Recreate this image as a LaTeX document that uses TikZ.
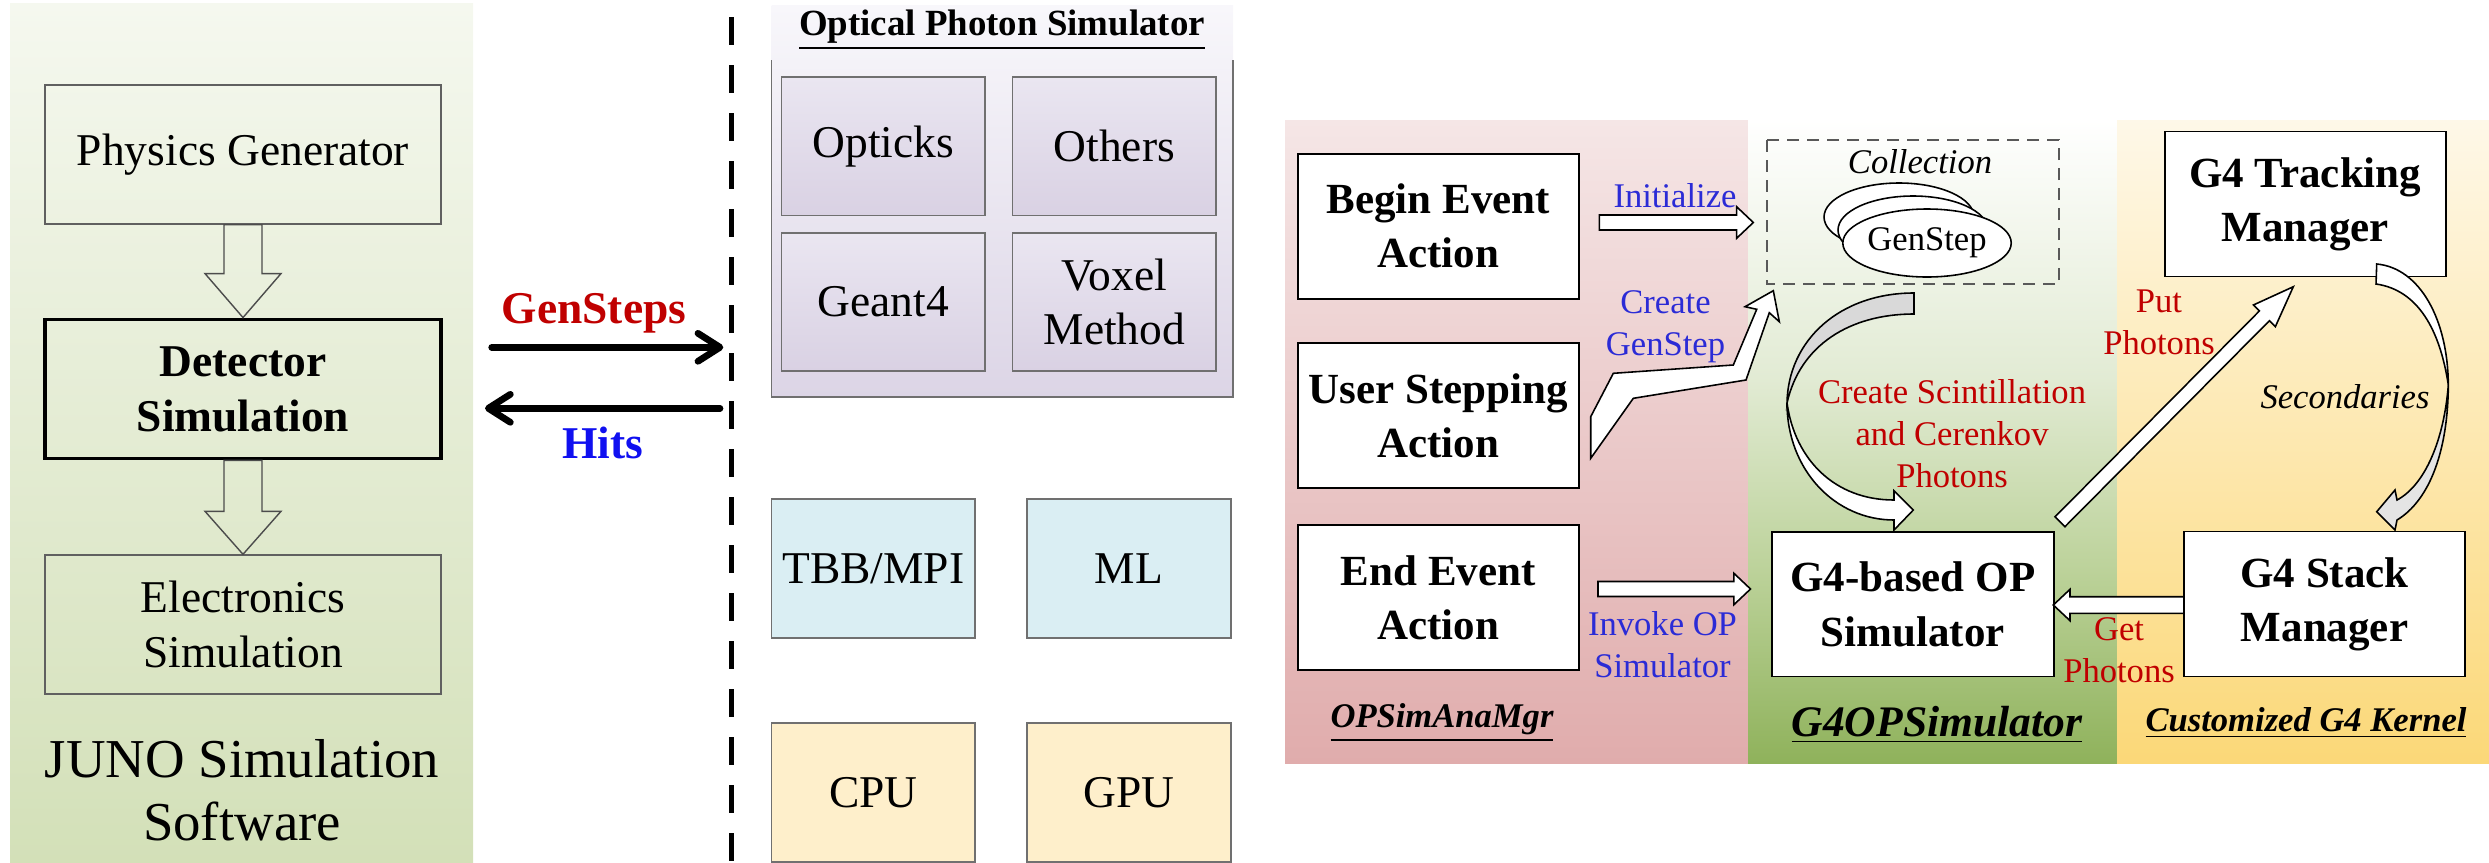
\documentclass[tikz,border=0pt]{standalone}
\usepackage{fontspec}
\setmainfont{LiberationSerif}[Extension=.ttf, UprightFont=*-Regular, BoldFont=*-Bold, ItalicFont=*-Italic, BoldItalicFont=*-BoldItalic]
\usetikzlibrary{calc,arrows.meta,shapes.geometric}
\definecolor{leftTop}{HTML}{F5F8EF}
\definecolor{leftBot}{HTML}{D3E0B8}
\definecolor{boxgray}{HTML}{606060}
\definecolor{opsTop}{HTML}{F8F7FB}
\definecolor{opsBot}{HTML}{DCD5E6}
\definecolor{opsEdge}{HTML}{707070}
\definecolor{inTop}{HTML}{EAE6F1}
\definecolor{inBot}{HTML}{D9D1E3}
\definecolor{hwBlue}{HTML}{DAEEF3}
\definecolor{hwYel}{HTML}{FEEFCB}
\definecolor{pinkTop}{HTML}{F5E6E6}
\definecolor{pinkBot}{HTML}{E0ACAC}
\definecolor{grnBot}{HTML}{8FB25B}
\definecolor{grnLow}{HTML}{BCD29A}
\definecolor{grnMid}{HTML}{E2EBD4}
\definecolor{grnTop}{HTML}{FFFFFF}
\definecolor{yelTop}{HTML}{FEF8E8}
\definecolor{yelMid}{HTML}{FDE8B0}
\definecolor{yelBot}{HTML}{FBD878}
\definecolor{labBlue}{HTML}{2B2BD6}
\definecolor{labRed}{HTML}{C00000}
\definecolor{hitsBlue}{HTML}{1010F0}
\definecolor{arrGray}{HTML}{D9D9D9}
\pgfdeclareverticalshading{grnshade}{100bp}{color(0bp)=(grnBot); color(25bp)=(grnBot); color(40bp)=(grnLow); color(55bp)=(grnMid); color(75bp)=(grnTop); color(100bp)=(grnTop)}
\pgfdeclareverticalshading{yelshade}{100bp}{color(0bp)=(yelBot); color(25bp)=(yelBot); color(50bp)=(yelMid); color(75bp)=(yelTop); color(100bp)=(yelTop)}
\newcommand\szbox{\fontsize{12.94}{15.6}\selectfont}
\newcommand\szR{\fontsize{12.23}{15.4}\selectfont}
\newcommand\szL{\fontsize{9.84}{11.9}\selectfont}
\newcommand\szJ{\fontsize{15.6}{17.9}\selectfont}
\newcommand\szT{\fontsize{10.5}{12}\selectfont}
\newcommand\szG{\fontsize{12.4}{14}\selectfont}
% block arrow: [style]{start}{end}{half shaft}{half head}{head length}
\newcommand\blkarrow[6][]{%
  \path ($(#3)!#6!(#2)$) coordinate (ba-h);
  \draw[#1] ($(#2)!#4!90:(#3)$) -- ($(ba-h)!#4!-90:(#2)$) -- ($(ba-h)!#5!-90:(#2)$) -- (#3)
     -- ($(ba-h)!#5!90:(#2)$) -- ($(ba-h)!#4!90:(#2)$) -- ($(#2)!#4!-90:(#3)$) -- cycle;
}
\begin{document}
\begin{tikzpicture}[x=0.1mm,y=-0.1mm,
  lbox/.style={draw=boxgray, line width=0.4pt, minimum width=39.6mm, minimum height=13.9mm, inner sep=0pt, align=center, font=\szbox},
  opsbox/.style={draw=opsEdge, line width=0.5pt, top color=inTop, bottom color=inBot, minimum width=20.35mm, minimum height=13.85mm, inner sep=0pt, align=center, font=\szbox},
  hwbox/.style={draw=opsEdge, line width=0.5pt, minimum width=20.34mm, minimum height=13.9mm, inner sep=0pt, align=center, font=\szbox},
  rbox/.style={draw=black, line width=0.5pt, fill=white, minimum width=28.1mm, minimum height=14.5mm, inner sep=0pt, align=center, font=\szR\bfseries},
  lab/.style={align=center, font=\szL, inner sep=0pt},
  bigarr/.style={line width=0.67mm, line cap=round, -{Straight Barb[length=2.2mm,width=2.8mm,round]}},
  hollow/.style={draw=gray!60!black, line width=0.4pt},
  whitearr/.style={draw=black, fill=white, line width=0.45pt},
  gsell/.style={ellipse, draw=black, fill=white, line width=0.45pt, minimum width=15mm, minimum height=6.8mm, inner sep=0pt}
]
\useasboundingbox (0,0) rectangle (2489,862);

% ---------- left panel ----------
\path[top color=leftTop, bottom color=leftBot] (10,3) rectangle (473,862);
\node[lbox] (pg) at (243,154.5) {Physics Generator};
\node[lbox, draw=black, line width=1.1pt, font=\szbox\bfseries] (ds) at (243,389) {Detector\\Simulation};
\node[lbox] (es) at (243,624.5) {Electronics\\Simulation};
\blkarrow[hollow]{pg.south}{ds.north}{1.9mm}{3.8mm}{4.4mm}
\blkarrow[hollow]{ds.south}{es.north}{1.9mm}{3.8mm}{4.3mm}
\node[font=\szJ, align=center, inner sep=0pt] (juno) at (242,790) {JUNO Simulation\\Software};

% ---------- GenSteps / Hits ----------
\coordinate (gsa) at (491.7,347.3);
\coordinate (gsb) at (723.3,347.3);
\coordinate (hta) at (720,408.3);
\coordinate (htb) at (485,408.3);
\draw[bigarr] (gsa) -- (gsb);
\draw[bigarr] (hta) -- (htb);
\node[font=\szbox\bfseries, text=labRed, inner sep=0pt] (gsl) at (594,313) {GenSteps};
\node[font=\szbox\bfseries, text=hitsBlue, inner sep=0pt] (hitsl) at (603,443) {Hits};
\coordinate (dtop) at (731,17);
\coordinate (dbot) at (731,862);
\draw[line width=0.5mm, dash pattern=on 2.8mm off 2mm] (dtop) -- (dbot);

% ---------- Optical Photon Simulator ----------
\path[top color=opsTop, bottom color=opsBot] (771.6,5.5) rectangle (1233,397);
\draw[draw=opsEdge, line width=0.5pt] (771.6,60) -- (771.6,397) -- (1233,397) -- (1233,60);
\node[font=\szT\bfseries, inner sep=0pt] (opst) at (1002,30) {\underline{Optical Photon Simulator}};
\node[opsbox] (opticks) at (883.3,146.3) {Opticks};
\node[opsbox] (others) at (1114.3,146.3) {Others};
\node[opsbox] (geant) at (883.3,302) {Geant4};
\node[opsbox] (voxel) at (1114.3,302) {Voxel\\Method};
\node[hwbox, fill=hwBlue] (tbb) at (873.3,568.5) {TBB/MPI};
\node[hwbox, fill=hwBlue] (ml) at (1129,568.5) {ML};
\node[hwbox, fill=hwYel] (cpu) at (873.3,792.5) {CPU};
\node[hwbox, fill=hwYel] (gpu) at (1129,792.5) {GPU};

% ---------- right panels ----------
\path[top color=pinkTop, bottom color=pinkBot] (1285,120) rectangle (1748,763);
\path[shading=grnshade] (1748,120) rectangle (2117,763);
\path[shading=yelshade] (2117,120) rectangle (2489,763);

\node[rbox] (bea) at (1438.2,226.2) {Begin Event\\Action};
\node[rbox] (usa) at (1438.2,415.7) {User Stepping\\Action};
\node[rbox] (eea) at (1438.2,597.8) {End Event\\Action};
\node[rbox, minimum width=28.17mm, minimum height=14.45mm] (g4op) at (1912.9,604.3) {G4-based OP\\Simulator};
\node[rbox] (g4tm) at (2305.2,204) {G4 Tracking\\Manager};
\node[rbox] (g4sm) at (2324.5,604) {G4 Stack\\Manager};

% collection
\draw[draw=black!65, line width=0.5pt, dash pattern=on 1.2mm off 0.8mm] (1767,140) rectangle (2059,284);
\node[lab, font=\szL\itshape] (coll) at (1920,162) {Collection};
\node[gsell] (gs3) at (1899,217) {};
\node[gsell] (gs2) at (1913,230) {};
\node[gsell, font=\szL] (gs1) at (1927,243) {GenStep};

% arrows
\coordinate (ini-s) at (1599.3,222.5);
\coordinate (ini-e) at (1753.3,222.5);
\blkarrow[whitearr]{ini-s}{ini-e}{0.75mm}{1.58mm}{1.67mm}
\coordinate (inv-s) at (1598,589);
\coordinate (inv-e) at (1750.5,589);
\blkarrow[whitearr]{inv-s}{inv-e}{0.75mm}{1.58mm}{1.67mm}
\coordinate (get-s) at (2184,605);
\coordinate (get-e) at (2053.3,605);
\blkarrow[whitearr]{get-s}{get-e}{0.83mm}{1.57mm}{1.67mm}
\coordinate (put-s) at (2060,521.7);
\coordinate (put-e) at (2293.3,286.7);
\blkarrow[whitearr]{put-s}{put-e}{0.7mm}{1.54mm}{4.1mm}

% Create GenStep bent arrow
\filldraw[whitearr] (1590.7,458.3) -- (1590.7,416.7) -- (1613.3,373.3) -- (1733.3,365) -- (1756.7,309.3)
  -- (1745,306.7) -- (1773.3,290.7) -- (1779.3,321.7) -- (1769.3,312.7) -- (1746,380) -- (1633.3,398.3) -- cycle;

% Create Scintillation curved arrow
\filldraw[draw=black, fill=arrGray, line width=0.45pt] (1914,293) .. controls (1840,293) and (1788,340) .. (1787,403)
  .. controls (1800,345) and (1850,314) .. (1914,314) -- cycle;
\filldraw[whitearr] (1787,403) .. controls (1787,470) and (1835,520) .. (1894,520) -- (1894,530) -- (1913.3,510)
  -- (1894,490.7) -- (1894,500) .. controls (1835,500) and (1795,460) .. (1787,403) -- cycle;

% Secondaries curved arrow
\filldraw[whitearr] (2376.7,264) .. controls (2420,268) and (2448,320) .. (2448.3,385)
  .. controls (2440,330) and (2418,290) .. (2376,284) -- cycle;
\filldraw[draw=black, fill=arrGray!70, line width=0.45pt] (2448.3,385) .. controls (2448,450) and (2430,500) .. (2397,520)
  -- (2395,530) -- (2376.7,511.7) -- (2395,490) -- (2397,500) .. controls (2425,485) and (2444,440) .. (2448.3,385) -- cycle;

% labels
\node[lab, text=labBlue] (linit) at (1675,196) {Initialize};
\node[lab, text=labBlue] (lcgs) at (1665.5,327) {Create\\GenStep};
\node[lab, text=labBlue] (linv) at (1662.5,644.5) {Invoke OP\\Simulator};
\node[lab, text=labRed] (lcsc) at (1952,433.5) {Create Scintillation\\and Cerenkov\\Photons};
\node[lab, text=labRed] (lput) at (2159,322) {Put\\Photons};
\node[lab, font=\szL\itshape] (lsec) at (2345,397) {Secondaries};
\node[lab, text=labRed] (lget) at (2119,650) {Get\\Photons};
\node[lab, font=\szL\bfseries\itshape] (lmgr) at (1442,723) {\underline{OPSimAnaMgr}};
\node[lab, font=\szG\bfseries\itshape] (lg4op) at (1937,725) {\underline{G4OPSimulator}};
\node[lab, font=\szL\bfseries\itshape] (lker) at (2306,723) {\underline{Customized G4 Kernel}};
\end{tikzpicture}
\end{document}
